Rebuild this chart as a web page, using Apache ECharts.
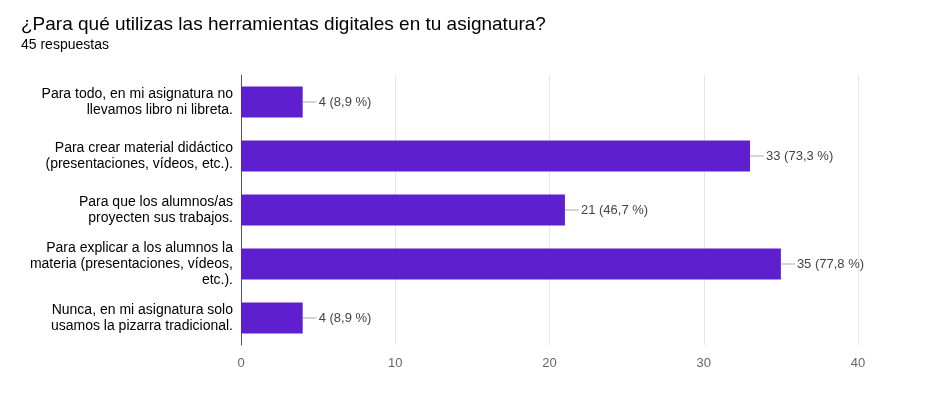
<!DOCTYPE html>
<html>
<head>
<meta charset="utf-8">
<script src="https://cdn.jsdelivr.net/npm/echarts@6/dist/echarts.min.js"></script>
<style>html,body{margin:0;background:#fff}#c{width:940px;height:405px}</style>
</head>
<body>
<div id="c"></div>
<script>
// categorías y respuestas
var categories = [
  'Para todo, en mi asignatura no\nllevamos libro ni libreta.',
  'Para crear material didáctico\n(presentaciones, vídeos, etc.).',
  'Para que los alumnos/as\nproyecten sus trabajos.',
  'Para explicar a los alumnos la\nmateria (presentaciones, vídeos,\netc.).',
  'Nunca, en mi asignatura solo\nusamos la pizarra tradicional.'
]
var counts = [4, 33, 21, 35, 4]
var percents = ['8,9', '73,3', '46,7', '77,8', '8,9']
var xTicks = [0, 10, 20, 30, 40]

var myChart = echarts.init(document.getElementById('c'))
var option = {
  animation: false,
  title: {
    text: '¿Para qué utilizas las herramientas digitales en tu asignatura?',
    subtext: '45 respuestas',
    left: 16,
    top: 10,
    itemGap: 4,
    textStyle: { fontFamily: 'Liberation Sans', fontSize: 19, fontWeight: 'normal', color: '#000' },
    subtextStyle: { fontFamily: 'Liberation Sans', fontSize: 14, color: '#000' }
  },
  grid: { left: 241, right: 82, top: 75, bottom: 60 },
  xAxis: {
    type: 'value',
    min: xTicks[0],
    max: xTicks[xTicks.length - 1],
    interval: 10,
    axisLabel: { color: '#666', fontFamily: 'Liberation Sans', fontSize: 13, margin: 12 },
    splitLine: { lineStyle: { color: '#e6e6e6' } },
    axisLine: { show: false },
    axisTick: { show: false }
  },
  yAxis: {
    type: 'category',
    inverse: true,
    data: categories,
    axisLine: { show: true, lineStyle: { color: '#555' } },
    axisTick: { show: false },
    axisLabel: { color: '#000', fontFamily: 'Liberation Sans', fontSize: 14, lineHeight: 16, align: 'right', margin: 8 }
  },
  series: [{
    type: 'bar',
    data: counts,
    barWidth: 31,
    itemStyle: { color: '#5e1fcf' },
    label: {
      show: true,
      position: 'right',
      distance: 0,
      formatter: function (p) {
        return '{l|}{t|' + counts[p.dataIndex] + ' (' + percents[p.dataIndex] + ' %)}'
      },
      rich: {
        l: { width: 14, height: 1, backgroundColor: '#aaa' },
        t: { color: '#444', fontFamily: 'Liberation Sans', fontSize: 13, padding: [0, 0, 0, 2] }
      }
    }
  }]
}
myChart.setOption(option)
</script>
</body>
</html>
